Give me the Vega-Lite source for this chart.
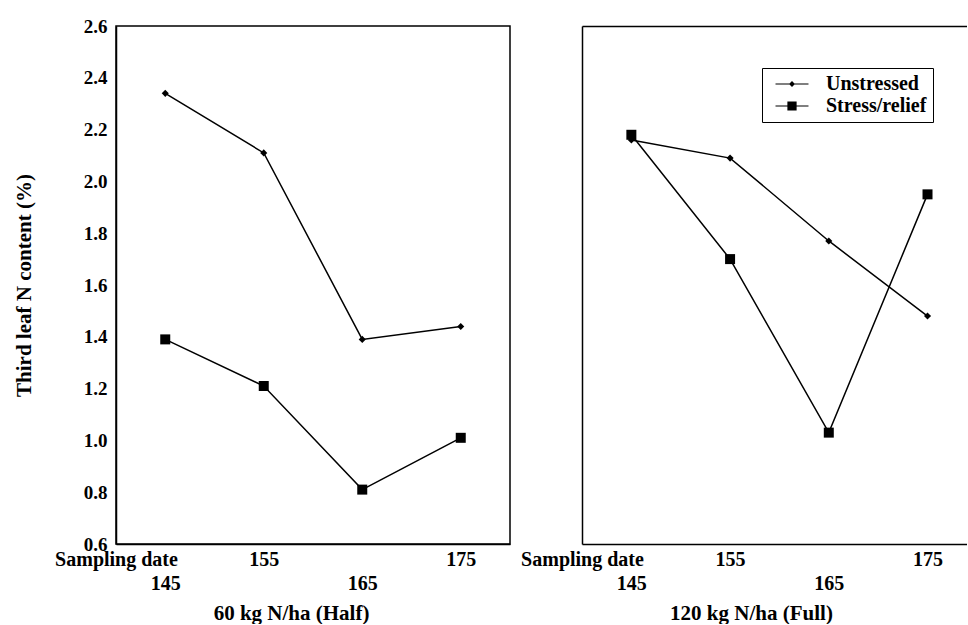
{
  "$schema": "https://vega.github.io/schema/vega-lite/v6.json",
  "background": "white",
  "padding": {"left": 12, "top": 16, "right": 0, "bottom": 0},
  "bounds": "flush",
  "spacing": 72,
  "config": {
    "font": "Liberation Serif",
    "view": {"stroke": null},
    "axis": {
      "domainColor": "black",
      "domainWidth": 1.5,
      "labelColor": "black",
      "labelFont": "Liberation Serif",
      "labelFontWeight": "bold",
      "labelFontSize": 19,
      "titleFont": "Liberation Serif",
      "titleFontWeight": "bold",
      "titleFontSize": 21,
      "titleColor": "black",
      "grid": false,
      "ticks": false
    },
    "axisX": {"labelFontSize": 20},
    "legend": {
      "labelFont": "Liberation Serif",
      "labelFontWeight": "bold",
      "labelFontSize": 20,
      "labelColor": "black"
    }
  },
  "data": {
    "values": [
      {"panel": "Half", "date": 145, "treatment": "Unstressed", "n": 2.34},
      {"panel": "Half", "date": 155, "treatment": "Unstressed", "n": 2.11},
      {"panel": "Half", "date": 165, "treatment": "Unstressed", "n": 1.39},
      {"panel": "Half", "date": 175, "treatment": "Unstressed", "n": 1.44},
      {"panel": "Half", "date": 145, "treatment": "Stress/relief", "n": 1.39},
      {"panel": "Half", "date": 155, "treatment": "Stress/relief", "n": 1.21},
      {"panel": "Half", "date": 165, "treatment": "Stress/relief", "n": 0.81},
      {"panel": "Half", "date": 175, "treatment": "Stress/relief", "n": 1.01},
      {"panel": "Full", "date": 145, "treatment": "Unstressed", "n": 2.16},
      {"panel": "Full", "date": 155, "treatment": "Unstressed", "n": 2.09},
      {"panel": "Full", "date": 165, "treatment": "Unstressed", "n": 1.77},
      {"panel": "Full", "date": 175, "treatment": "Unstressed", "n": 1.48},
      {"panel": "Full", "date": 145, "treatment": "Stress/relief", "n": 2.18},
      {"panel": "Full", "date": 155, "treatment": "Stress/relief", "n": 1.70},
      {"panel": "Full", "date": 165, "treatment": "Stress/relief", "n": 1.03},
      {"panel": "Full", "date": 175, "treatment": "Stress/relief", "n": 1.95}
    ]
  },
  "resolve": {"scale": {"shape": "independent"}, "legend": {"shape": "independent"}},
  "hconcat": [
    {
      "width": 394,
      "height": 518,
      "view": {"stroke": "black", "strokeWidth": 1.5},
      "transform": [{"filter": "datum.panel === 'Half'"}],
      "encoding": {
        "x": {
          "field": "date", "type": "quantitative",
          "scale": {"domain": [140, 180], "nice": false, "zero": false},
          "axis": {
            "values": [140, 145, 155, 165, 175],
            "labelExpr": "datum.value == 140 ? 'Sampling date' : (datum.value == 145 || datum.value == 165) ? ['', datum.label] : datum.label",
            "labelLineHeight": 24,
            "labelPadding": 5,
            "labelOverlap": false,
            "labelFlush": false,
            "labelBound": false,
            "title": "60 kg N/ha (Half)",
            "titleX": 175,
            "titleY": 69,
            "titleAlign": "center",
            "titleBaseline": "middle"
          }
        },
        "y": {
          "field": "n", "type": "quantitative",
          "scale": {"domain": [0.6, 2.6], "nice": false, "zero": false},
          "axis": {
            "values": [0.6, 0.8, 1.0, 1.2, 1.4, 1.6, 1.8, 2.0, 2.2, 2.4, 2.6],
            "format": ".1f",
            "labelPadding": 9,
            "labelOverlap": false,
            "labelFlush": false,
            "title": "Third leaf N content (%)",
            "titleX": -92,
            "titleY": 259,
            "titleAngle": -90,
            "titleAlign": "center",
            "titleBaseline": "middle"
          }
        }
      },
      "layer": [
        {
          "mark": {"type": "line", "color": "black", "strokeWidth": 1.5},
          "encoding": {"detail": {"field": "treatment"}}
        },
        {
          "mark": {"type": "point", "filled": true, "color": "black", "opacity": 1},
          "encoding": {
            "shape": {"field": "treatment", "type": "nominal",
              "scale": {"domain": ["Unstressed", "Stress/relief"], "range": ["diamond", "square"]},
              "legend": null},
            "size": {"field": "treatment", "type": "nominal",
              "scale": {"domain": ["Unstressed", "Stress/relief"], "range": [50, 100]},
              "legend": null}
          }
        }
      ]
    },
    {
      "width": 385,
      "height": 518,
      "transform": [{"filter": "datum.panel === 'Full'"}],
      "layer": [
        {
          "mark": {"type": "line", "color": "black", "strokeWidth": 1.5},
          "encoding": {
            "x": {
              "field": "date", "type": "quantitative",
              "scale": {"domain": [140, 179], "nice": false, "zero": false},
              "axis": {
                "orient": "bottom",
                "values": [140, 145, 155, 165, 175],
                "labelExpr": "datum.value == 140 ? 'Sampling date' : (datum.value == 145 || datum.value == 165) ? ['', datum.label] : datum.label",
                "labelLineHeight": 24,
                "labelPadding": 5,
                "labelOverlap": false,
                "labelFlush": false,
                "labelBound": false,
                "title": "120 kg N/ha (Full)",
                "titleX": 169,
                "titleY": 69,
                "titleAlign": "center",
                "titleBaseline": "middle"
              }
            },
            "y": {
              "field": "n", "type": "quantitative",
              "scale": {"domain": [0.6, 2.6], "nice": false, "zero": false},
              "axis": {"labels": false, "title": null}
            },
            "detail": {"field": "treatment"}
          }
        },
        {
          "mark": {"type": "point", "filled": true, "color": "black", "opacity": 1},
          "encoding": {
            "x": {
              "field": "date", "type": "quantitative",
              "axis": {"orient": "top", "labels": false, "title": null}
            },
            "y": {"field": "n", "type": "quantitative", "axis": {"labels": false, "title": null}},
            "shape": {"field": "treatment", "type": "nominal",
              "scale": {"domain": ["Unstressed", "Stress/relief"], "range": ["diamond", "square"]},
              "legend": null},
            "size": {"field": "treatment", "type": "nominal",
              "scale": {"domain": ["Unstressed", "Stress/relief"], "range": [50, 100]},
              "legend": null}
          }
        },
        {
          "mark": {"type": "point", "filled": true, "color": "black", "size": 0, "opacity": 1},
          "encoding": {
            "x": {"field": "date", "type": "quantitative", "axis": null},
            "y": {"field": "n", "type": "quantitative", "axis": {"labels": false, "title": null}},
            "shape": {"field": "treatment", "type": "nominal",
              "scale": {"domain": ["Unstressed", "Stress/relief"],
                "range": ["M-2.5,-0.09L2.5,-0.09L2.5,0.09L-2.5,0.09ZM0,-0.45L0.45,0L0,0.45L-0.45,0Z", "M-2.5,-0.09L2.5,-0.09L2.5,0.09L-2.5,0.09ZM-0.7,-0.7L0.7,-0.7L0.7,0.7L-0.7,0.7Z"]},
              "legend": {
                "title": null,
                "orient": "none",
                "legendX": 180,
                "legendY": 42,
                "padding": 6,
                "strokeColor": "black",
                "fillColor": "white",
                "symbolSize": 174,
                "symbolOffset": 14,
                "labelOffset": 24,
                "rowPadding": 2,
                "symbolOpacity": 1
              }
            }
          }
        }
      ],
      "resolve": {"axis": {"x": "independent"}, "scale": {"shape": "independent"}, "legend": {"shape": "independent"}}
    }
  ]
}
